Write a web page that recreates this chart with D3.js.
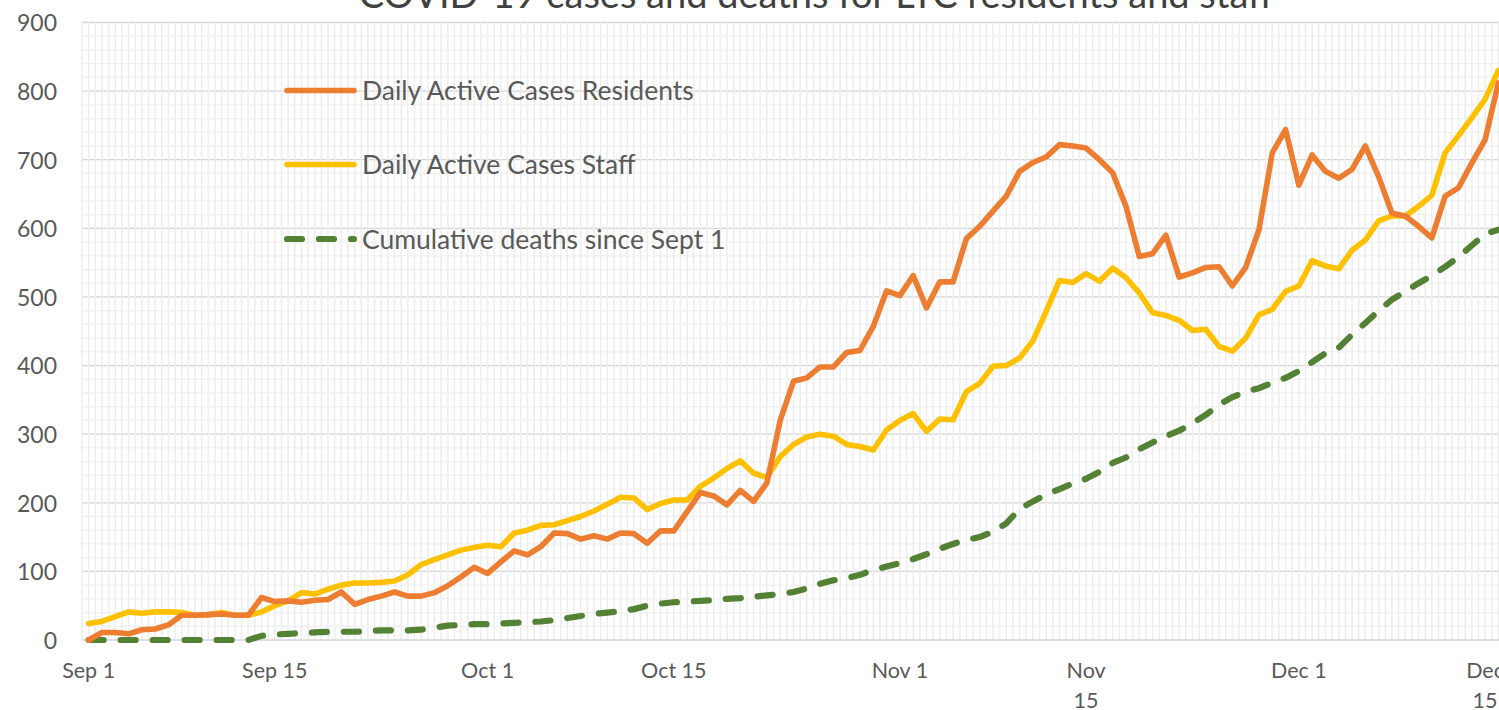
<!DOCTYPE html>
<html>
<head>
<meta charset="utf-8">
<script src="https://cdn.jsdelivr.net/npm/d3@7/dist/d3.min.js"></script>
<style>
  html, body { margin: 0; padding: 0; background: #fff; overflow: hidden; }
  svg { display: block; font-family: Lato, "Open Sans", sans-serif; }
</style>
</head>
<body>
<svg id="chart" width="1499" height="710"></svg>
<script>
// ---------------- DATA ----------------
const title = "COVID-19 cases and deaths for LTC residents and staff";
const startDate = "2020-09-01";
const seriesNames = ["Daily Active Cases Residents", "Daily Active Cases Staff", "Cumulative deaths since Sept 1"];

const residents = [
  0, 11, 11, 9, 15, 16, 22, 36, 36, 37, 38, 36, 36, 62, 56, 57, 55, 58, 59, 70,
  52, 59, 64, 70, 64, 64, 69, 79, 92, 106, 97, 114, 130, 124, 136, 156, 155, 147, 152, 147,
  156, 155, 141, 159, 159, 187, 215, 210, 197, 218, 202, 229, 320, 377, 382, 398, 398, 419, 422, 457,
  509, 502, 531, 484, 522, 522, 585, 603, 625, 647, 683, 696, 704, 722, 720, 717, 700, 681, 632, 559,
  563, 590, 529, 535, 543, 544, 516, 543, 598, 710, 744, 663, 707, 683, 673, 686, 720, 675, 622, 618,
  603, 586, 647, 659, 695, 729, 812
];
const staff = [
  24, 27, 34, 41, 39, 41, 41, 40, 36, 37, 40, 36, 36, 41, 50, 57, 69, 67, 74, 80,
  83, 83, 84, 86, 95, 110, 117, 124, 131, 135, 138, 136, 156, 160, 167, 168, 174, 180, 188, 198,
  208, 207, 190, 199, 204, 204, 224, 236, 250, 261, 243, 237, 267, 285, 296, 300, 297, 285, 282, 277,
  306, 320, 330, 304, 322, 321, 362, 374, 399, 400, 411, 436, 479, 524, 521, 534, 523, 542, 528, 506,
  477, 473, 466, 451, 453, 428, 421, 440, 474, 482, 508, 516, 553, 545, 541, 568, 583, 611, 618, 618,
  632, 648, 710, 735, 761, 788, 830
];
const deaths = [
  0, 0, 0, 0, 0, 0, 0, 0, 0, 0, 0, 0, 0, 6, 8, 9, 10, 11, 12, 12,
  12, 13, 14, 14, 14, 15, 18, 21, 22, 23, 23, 24, 25, 26, 27, 29, 32, 35, 38, 40,
  42, 45, 50, 53, 55, 56, 57, 58, 60, 61, 63, 65, 67, 70, 75, 82, 87, 90, 95, 102,
  107, 112, 118, 125, 133, 140, 146, 150, 158, 170, 191, 202, 212, 220, 228, 235, 245, 258, 266, 278,
  288, 297, 305, 316, 328, 343, 354, 362, 367, 375, 382, 392, 405, 418, 426, 445, 462, 480, 496, 508,
  520, 531, 544, 558, 575, 592, 598
];
const yTicks = [0, 100, 200, 300, 400, 500, 600, 700, 800, 900];
const xTickDates = ["2020-09-01", "2020-09-15", "2020-10-01", "2020-10-15", "2020-11-01", "2020-11-15", "2020-12-01", "2020-12-15"];
const xTickLabels = [["Sep 1"], ["Sep 15"], ["Oct 1"], ["Oct 15"], ["Nov 1"], ["Nov", "15"], ["Dec 1"], ["Dec", "15"]];

// ---------------- LAYOUT ----------------
const parse = d3.timeParse("%Y-%m-%d");
const fmt = d3.timeFormat("%Y-%m-%d");
const t0 = parse(startDate);
const dates = residents.map((_, i) => fmt(d3.timeDay.offset(t0, i)));

const pLeft = 82, pRight = 1505, pTop = 22.5, pBottom = 640;
const svg = d3.select("#chart");

const x = d3.scaleBand().domain(dates).range([pLeft, pRight]).paddingInner(0).paddingOuter(0);
const cx = d => x(d) + x.bandwidth() / 2;
const y = d3.scaleLinear().domain([0, 900]).range([pBottom, pTop]);

const grid = svg.append("g");
// major horizontal gridlines
grid.selectAll("line.major").data(yTicks.filter(v => v > 0)).join("line")
  .attr("class", "major")
  .attr("x1", pLeft).attr("x2", pRight)
  .attr("y1", d => y(d)).attr("y2", d => y(d))
  .attr("stroke", "#d4d4d4").attr("stroke-width", 1.3);
// minor horizontal gridlines
grid.selectAll("line.minor").data(d3.range(20, 900, 20).filter(v => v % 100 !== 0)).join("line")
  .attr("class", "minor")
  .attr("x1", pLeft).attr("x2", pRight)
  .attr("y1", d => y(d)).attr("y2", d => y(d))
  .attr("stroke", "#f0f0f0").attr("stroke-width", 1.3);
// vertical gridlines at category boundaries and centres
const vx = [];
dates.forEach(d => { vx.push(x(d)); vx.push(cx(d)); });
grid.selectAll("line.v").data(vx).join("line")
  .attr("class", "v")
  .attr("x1", d => d).attr("x2", d => d)
  .attr("y1", pTop).attr("y2", pBottom)
  .attr("stroke", "#eeeeee").attr("stroke-width", 1.6);

// x axis line
svg.append("line").attr("x1", pLeft).attr("x2", pRight)
  .attr("y1", y(0)).attr("y2", y(0))
  .attr("stroke", "#d4d4d4").attr("stroke-width", 1.6);

// y axis
const yAxis = svg.append("g").attr("transform", `translate(${pLeft},0)`)
  .call(d3.axisLeft(y).tickValues(yTicks).tickSize(0).tickPadding(25).tickFormat(d3.format("d")));
yAxis.select(".domain").remove();
yAxis.selectAll("text").attr("fill", "#595959").style("font-size", "23px")
  .style("font-family", "Lato, sans-serif").attr("dy", "0.36em");

// x axis labels
const xAxis = svg.append("g").attr("transform", `translate(0,${pBottom})`)
  .call(d3.axisBottom(x).tickValues(xTickDates).tickSize(0).tickPadding(0).tickFormat(""));
xAxis.select(".domain").remove();
xAxis.selectAll(".tick text").each(function(d) {
  const idx = xTickDates.indexOf(d);
  const lines = xTickLabels[idx];
  const t = d3.select(this).attr("fill", "#595959").style("font-size", "21.5px")
    .style("font-family", "Lato, sans-serif").attr("dy", null).attr("y", 38);
  lines.forEach((ln, k) => {
    t.append("tspan").attr("x", 0).attr("dy", k === 0 ? 0 : 30).text(ln);
  });
});

// series lines
const line = d3.line().x((v, i) => cx(dates[i])).y(v => y(v)).curve(d3.curveLinear);
svg.append("path").datum(deaths).attr("d", line).attr("fill", "none")
  .attr("stroke", "#548235").attr("stroke-width", 6.2)
  .attr("stroke-dasharray", "15 17").attr("stroke-linecap", "round").attr("stroke-linejoin", "round");
svg.append("path").datum(staff).attr("d", line).attr("fill", "none")
  .attr("stroke", "#FFC000").attr("stroke-width", 5.6).attr("stroke-linejoin", "round").attr("stroke-linecap", "round");
svg.append("path").datum(residents).attr("d", line).attr("fill", "none")
  .attr("stroke", "#ED7D31").attr("stroke-width", 5.6).attr("stroke-linejoin", "round").attr("stroke-linecap", "round");

// title
svg.append("text").attr("x", 816).attr("y", 8).attr("text-anchor", "middle")
  .attr("fill", "#404040").style("font-size", "38px").style("font-family", "Lato, sans-serif")
  .text(title);

// legend
const legendColors = ["#ED7D31", "#FFC000", "#548235"];
const legendY = [90.5, 164.5, 239];
const lg = svg.append("g");
seriesNames.forEach((name, i) => {
  const l = lg.append("line").attr("x1", 287).attr("x2", 354)
    .attr("y1", legendY[i]).attr("y2", legendY[i])
    .attr("stroke", legendColors[i]).attr("stroke-width", i === 2 ? 6.2 : 5.6)
    .attr("stroke-linecap", "round");
  if (i === 2) l.attr("stroke-dasharray", "15 17");
  lg.append("text").attr("x", 362).attr("y", legendY[i]).attr("dy", "0.36em")
    .attr("fill", "#595959").style("font-size", "26.5px").style("font-family", "Lato, sans-serif")
    .text(name);
});
</script>
</body>
</html>
